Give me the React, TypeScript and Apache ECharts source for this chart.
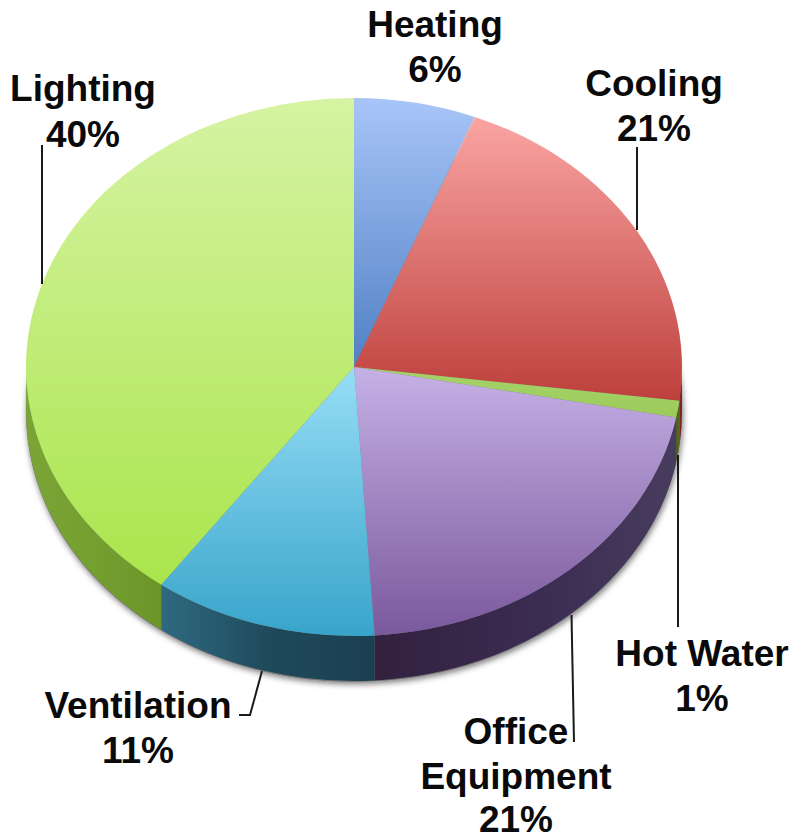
import React, { useEffect, useRef } from "react";
import * as echarts from "echarts";

const names = ["Heating", "Cooling", "Hot Water", "Office Equipment", "Ventilation", "Lighting"];
const values = [6, 21, 1, 21, 11, 40];

const topColors = [
  ["#a8c5f8", "#5080c4"],
  ["#faa5a3", "#bd3f3b"],
  ["#a6d36a", "#9ccb5a"],
  ["#c6b1e6", "#7a589c"],
  ["#97def7", "#38a4ca"],
  ["#d6f3a3", "#aae54c"],
];
const sideColors = [
  ["#3d5f8f", "#3d5f8f", "#3d5f8f"],
  ["#7a2623", "#7a2623", "#7a2623"],
  ["#4d5c18", "#55641b", "#5b6a1e"],
  ["#33203f", "#3a2b50", "#473c5e"],
  ["#2f6a80", "#1f4a5c", "#1a3f50"],
  ["#7ba436", "#74a030", "#6c9529"],
];

const CX = 354, CY = 367, RX = 328, RY = 269, DEPTH = 45;
const FONT_SIZE = 37;

// text lines: [centre x, baseline y, text]; percentages are taken from values
const labelLayout: [number, number[], string[]][] = [
  [435, [36, 81], ["Heating", `${values[0]}%`]],
  [654, [95, 140], ["Cooling", `${values[1]}%`]],
  [702, [665, 710], ["Hot Water", `${values[2]}%`]],
  [516, [743, 788, 831], ["Office", "Equipment", `${values[3]}%`]],
  [138, [717, 762], ["Ventilation", `${values[4]}%`]],
  [83, [100, 146], ["Lighting", `${values[5]}%`]],
];
const leaders: number[][][] = [
  [[637, 147], [637, 230]],
  [[678, 455], [678, 627]],
  [[571.5, 615], [574, 742]],
  [[262, 671], [250, 715], [239, 715]],
  [[42, 145], [42, 284]],
];

const starts: number[] = [];
values.reduce((sum, v) => { starts.push(sum); return sum + v; }, 0);

const pt = (deg: number, dy = 0) => {
  const a = (deg * Math.PI) / 180;
  return [CX + RX * Math.sin(a), CY - RY * Math.cos(a) + dy];
};
const fmt = (p: number[]) => `${p[0].toFixed(2)} ${p[1].toFixed(2)}`;
const arc = (to: number[], large: boolean) => `A ${RX} ${RY} 0 ${large ? 1 : 0} 1 ${fmt(to)}`;

const linear = (horizontal: boolean, c: string[]) =>
  new echarts.graphic.LinearGradient(
    0, 0, horizontal ? 1 : 0, horizontal ? 0 : 1,
    c.map((color, k) => ({ offset: k / (c.length - 1), color }))
  );

const renderSides = (params: any, api: any) => {
  const i = params.dataIndex;
  const a0 = (api.value(1) / 100) * 360;
  const a1 = a0 + (api.value(0) / 100) * 360;
  const s = Math.max(a0, 90);
  const e = Math.min(a1, 270);
  if (e <= s) return { type: "group", children: [] };
  const pathData =
    `M ${fmt(pt(s))} ${arc(pt(e), e - s > 180)} L ${fmt(pt(e, DEPTH))} ` +
    `A ${RX} ${RY} 0 ${e - s > 180 ? 1 : 0} 0 ${fmt(pt(s, DEPTH))} Z`;
  return { type: "path", shape: { pathData }, style: { fill: linear(true, sideColors[i]) } };
};

const renderTops = (params: any, api: any) => {
  const i = params.dataIndex;
  const a0 = (api.value(1) / 100) * 360;
  const a1 = a0 + (api.value(0) / 100) * 360;
  const pathData = `M ${CX} ${CY} L ${fmt(pt(a0))} ${arc(pt(a1), a1 - a0 > 180)} Z`;
  return { type: "path", shape: { pathData }, style: { fill: linear(false, topColors[i]) } };
};

export default function App() {
  const ref = useRef<HTMLDivElement>(null);
  useEffect(() => {
    document.body.style.margin = "0";
    const chart = echarts.init(ref.current!, undefined, { renderer: "svg" });
    const data = values.map((v, i) => ({ name: names[i], value: [v, starts[i]] }));
    const texts: any[] = [];
    labelLayout.forEach(([x, ys, lines]) => {
      lines.forEach((t, k) =>
        texts.push({
          type: "text",
          x,
          y: ys[k] - 12,
          z: 10,
          style: {
            text: t,
            fill: "#0a0a0a",
            font: `bold ${FONT_SIZE}px "Liberation Sans", Arial, sans-serif`,
            textAlign: "center",
            textVerticalAlign: "middle",
          },
        })
      );
    });
    const lines = leaders.map((points) => ({
      type: "polyline",
      z: 10,
      shape: { points },
      style: { stroke: "#1a1a1a", lineWidth: 2, fill: "none" },
    }));
    chart.setOption({
      animation: false,
      backgroundColor: "#ffffff",
      tooltip: { show: false },
      graphic: [
        {
          type: "ellipse",
          z: 0,
          shape: { cx: CX, cy: CY + DEPTH + 1, rx: RX, ry: RY },
          style: {
            fill: "#777777",
            shadowBlur: 6,
            shadowColor: "rgba(0,0,0,0.55)",
            shadowOffsetX: 1,
            shadowOffsetY: 2,
          },
        },
        ...lines,
        ...texts,
      ],
      series: [
        { type: "custom", coordinateSystem: "none", silent: true, z: 2, data, renderItem: renderSides },
        { type: "custom", coordinateSystem: "none", silent: true, z: 3, data, renderItem: renderTops },
      ],
    });
    return () => chart.dispose();
  }, []);
  return <div ref={ref} style={{ position: "fixed", left: 0, top: 0, width: 794, height: 838 }} />;
}
